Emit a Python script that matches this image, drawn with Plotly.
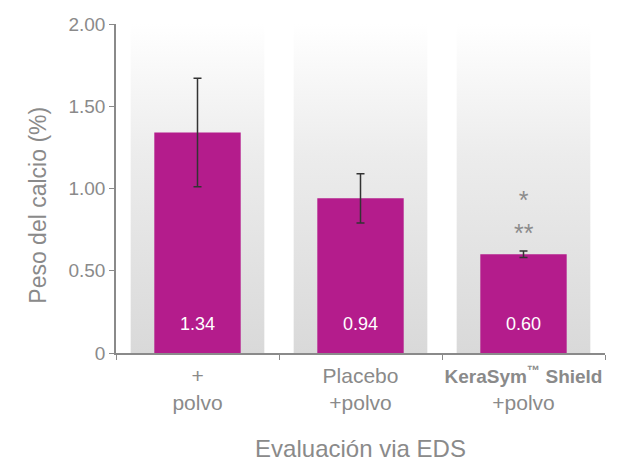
import plotly.graph_objects as go

categories = ["+<br>polvo", "Placebo<br>+polvo",
              "<span style='font-size:19px'><b>KeraSym<sup>™</sup> Shield</b></span><br>+polvo"]
values = [1.34, 0.94, 0.60]
errors = [0.33, 0.15, 0.02]
value_labels = ["1.34", "0.94", "0.60"]
y_tickvals = [0, 0.5, 1.0, 1.5, 2.0]
y_ticktext = ["0", "0.50", "1.00", "1.50", "2.00"]
significance = "*<br>**"
y_title = "Peso del calcio (%)"
x_title = "Evaluación via EDS"

BAR_COLOR = "#B41C8C"
GRAY = "#8a8a8a"
FONT = "Liberation Sans, Arial, sans-serif"
BAND_HALF = 0.41
BAND_TOP = 2.0
LABEL_Y = 0.17

fig = go.Figure()

# gradient background bands (numeric hidden axis x)
for i in range(len(categories)):
    fig.add_trace(go.Scatter(
        x=[i - BAND_HALF, i + BAND_HALF, i + BAND_HALF, i - BAND_HALF, i - BAND_HALF],
        y=[0, 0, BAND_TOP, BAND_TOP, 0],
        mode="lines", line=dict(width=0), fill="toself",
        fillgradient=dict(type="vertical", colorscale=[[0, "#d9d9d9"], [0.6, "#ececec"], [1, "#ffffff"]]),
        hoverinfo="skip", showlegend=False, xaxis="x", yaxis="y",
    ))

fig.add_trace(go.Bar(
    x=categories, y=values, width=0.53,
    marker=dict(color=BAR_COLOR, line=dict(width=0)),
    error_y=dict(type="data", array=errors, visible=True, color="#333333", thickness=1.5, width=4),
    xaxis="x2", yaxis="y", showlegend=False,
))

fig.add_trace(go.Scatter(
    x=categories, y=[LABEL_Y] * len(categories), mode="text", text=value_labels,
    textfont=dict(family=FONT, size=18, color="white"),
    xaxis="x2", yaxis="y", showlegend=False, hoverinfo="skip",
))

fig.add_annotation(
    x=categories[2], y=values[2] + errors[2], xref="x2", yref="y",
    text=significance, showarrow=False, yanchor="bottom", yshift=2,
    font=dict(family=FONT, size=25, color="#8c8c8c"),
)

# y-axis title placed slightly below centre, as in the reference
fig.add_annotation(
    x=-0.16, y=0.45, xref="paper", yref="paper", text=y_title, textangle=-90,
    showarrow=False, xanchor="center", yanchor="middle",
    font=dict(family=FONT, size=23, color=GRAY),
)

fig.update_layout(
    width=620, height=466,
    margin=dict(l=108, r=23, t=16, b=121),
    paper_bgcolor="white", plot_bgcolor="white",
    font=dict(family=FONT, color=GRAY),
    xaxis=dict(range=[-0.5, 2.5], visible=False, fixedrange=True),
    xaxis2=dict(
        overlaying="x", anchor="y", side="bottom",
        type="category", tickson="boundaries", tickangle=0, automargin=False,
        showline=True, linecolor="#8a8a8a", linewidth=1.5,
        ticks="outside", ticklen=5, tickcolor="#8a8a8a", ticklabelstandoff=3,
        tickfont=dict(family=FONT, size=21, color=GRAY),
        showgrid=False, zeroline=False,
        title=dict(text=x_title, font=dict(family=FONT, size=24, color=GRAY), standoff=27),
    ),
    yaxis=dict(
        range=[0, 2], tickvals=y_tickvals, ticktext=y_ticktext, automargin=False,
        showline=True, linecolor="#8a8a8a", linewidth=1.5,
        ticks="outside", ticklen=5, tickcolor="#8a8a8a",
        tickfont=dict(family=FONT, size=19, color=GRAY),
        showgrid=False, zeroline=False,
    ),
)

fig.write_html("out.html")
